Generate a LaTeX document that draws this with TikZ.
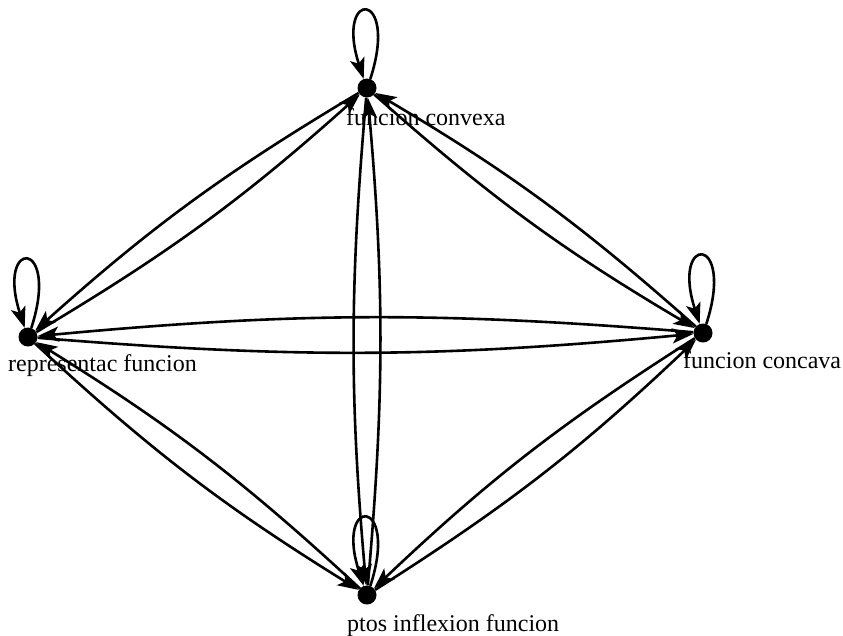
\documentclass[tikz,border=0pt]{standalone}
\usepackage{fontspec}
\setmainfont{Liberation Serif}
\usetikzlibrary{arrows.meta}
\begin{document}
\begin{tikzpicture}[x=1pt,y=-1pt,
  vertex/.style={circle,fill=black,inner sep=0pt,minimum size=19pt},
  lbl/.style={anchor=base west,inner sep=0pt,font=\fontsize{24}{28}\selectfont},
  edge/.style={line width=2.6pt,-{Stealth[length=21pt,width=15pt,inset=5pt]}},
  loopedge/.style={edge}]
\useasboundingbox (0,0) rectangle (843,635);
\node[vertex] (t) at (367,88) {};
\node[vertex] (l) at (28,337) {};
\node[vertex] (r) at (703,333) {};
\node[vertex] (b) at (367,595) {};
\node[lbl] (tl) at (346,125) {funcion convexa};
\node[lbl] (ll) at (8,371) {representac funcion};
\node[lbl] (rl) at (683,368) {funcion concava};
\node[lbl] (bl) at (347,631) {ptos inflexion funcion};
% vertical and horizontal pairs
\draw[edge] (t) to[bend right=5] (b);
\draw[edge] (b) to[bend right=5] (t);
\draw[edge] (l) to[bend right=5] (r);
\draw[edge] (r) to[bend right=5] (l);
% diagonals
\draw[edge] (t) to[bend right=5.5] (l);
\draw[edge] (l) to[bend right=5.5] (t);
\draw[edge] (t) to[bend right=5.5] (r);
\draw[edge] (r) to[bend right=5.5] (t);
\draw[edge] (l) to[bend right=5.5] (b);
\draw[edge] (b) to[bend right=5.5] (l);
\draw[edge] (r) to[bend right=5.5] (b);
\draw[edge] (b) to[bend right=5.5] (r);
% self loops
\draw[loopedge] (t.70) .. controls +(72:95pt) and +(108:95pt) .. (t.110);
\draw[loopedge] (l.70) .. controls +(72:95pt) and +(108:95pt) .. (l.110);
\draw[loopedge] (r.70) .. controls +(72:95pt) and +(108:95pt) .. (r.110);
\draw[loopedge] (b.70) .. controls +(72:95pt) and +(108:95pt) .. (b.110);
\end{tikzpicture}
\end{document}
